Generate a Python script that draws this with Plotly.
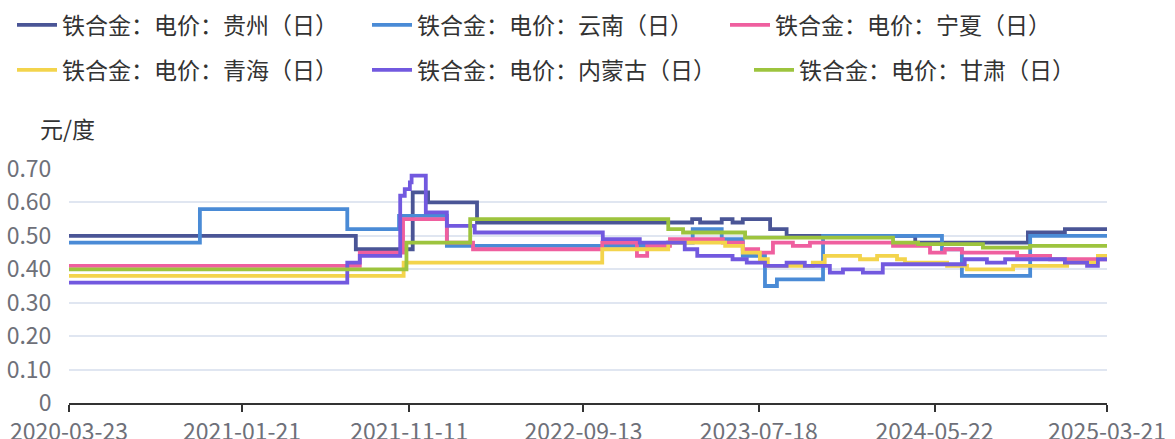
import plotly.graph_objects as go

FONT = "Noto Sans CJK SC, Noto Sans, sans-serif"

# ---- data (step series: value holds from each date to the next) ----
guizhou_dates = ["2020-03-23", "2021-08-09", "2021-11-17", "2021-12-14", "2022-03-10", "2023-03-23",
                 "2023-04-06", "2023-05-14", "2023-06-02", "2023-06-20", "2023-08-07", "2023-09-05",
                 "2024-04-18", "2024-11-02", "2025-01-06", "2025-03-21"]
guizhou_vals = [0.50, 0.46, 0.63, 0.60, 0.54, 0.55, 0.54, 0.55, 0.54, 0.55, 0.52, 0.50, 0.48, 0.51, 0.52, 0.52]

yunnan_dates = ["2020-03-23", "2020-11-08", "2021-07-25", "2021-10-24", "2022-01-16", "2023-02-09",
                "2023-03-24", "2023-05-14", "2023-06-20", "2023-07-29", "2023-08-19", "2023-11-08",
                "2024-06-04", "2024-07-09", "2024-11-06", "2025-03-21"]
yunnan_vals = [0.48, 0.58, 0.52, 0.56, 0.47, 0.48, 0.52, 0.49, 0.44, 0.35, 0.37, 0.50, 0.46, 0.38, 0.50, 0.50]

ningxia_dates = ["2020-03-23", "2021-08-16", "2021-10-31", "2022-01-16", "2022-03-03", "2022-10-16",
                 "2022-12-16", "2023-01-03", "2023-02-12", "2023-05-16", "2023-06-20", "2023-07-17",
                 "2023-08-12", "2023-09-16", "2023-10-16", "2024-03-10", "2024-05-14", "2024-06-09",
                 "2024-07-09", "2024-10-14", "2024-12-11", "2025-03-21"]
ningxia_vals = [0.41, 0.45, 0.55, 0.48, 0.46, 0.48, 0.44, 0.47, 0.49, 0.48, 0.46, 0.45,
                0.48, 0.47, 0.48, 0.47, 0.45, 0.46, 0.45, 0.44, 0.43, 0.43]

qinghai_dates = ["2020-03-23", "2021-11-01", "2022-10-16", "2023-02-09", "2023-05-20", "2023-06-20",
                 "2023-07-20", "2023-08-03", "2023-10-21", "2023-11-11", "2024-01-12", "2024-02-11",
                 "2024-03-17", "2024-03-31", "2024-06-13", "2024-07-18", "2024-10-07", "2025-01-10",
                 "2025-03-05", "2025-03-21"]
qinghai_vals = [0.38, 0.42, 0.46, 0.48, 0.47, 0.45, 0.43, 0.41, 0.42, 0.44, 0.43, 0.44,
                0.43, 0.42, 0.41, 0.40, 0.41, 0.42, 0.44, 0.44]

neimenggu_dates = ["2020-03-23", "2021-07-25", "2021-08-16", "2021-10-26", "2021-11-03", "2021-11-12",
                   "2021-11-15", "2021-12-10", "2022-01-16", "2022-03-06", "2022-10-17", "2022-12-21",
                   "2023-03-10", "2023-04-01", "2023-06-02", "2023-06-27", "2023-07-29", "2023-09-05",
                   "2023-10-07", "2023-11-20", "2023-12-13", "2024-01-17", "2024-02-21", "2024-07-14",
                   "2024-08-22", "2024-09-23", "2025-01-06", "2025-02-14", "2025-03-05", "2025-03-21"]
neimenggu_vals = [0.36, 0.42, 0.44, 0.62, 0.64, 0.66, 0.68, 0.57, 0.53, 0.51, 0.49, 0.48,
                  0.46, 0.44, 0.43, 0.42, 0.41, 0.42, 0.41, 0.39, 0.40, 0.39, 0.415, 0.43,
                  0.42, 0.43, 0.42, 0.41, 0.43, 0.43]

gansu_dates = ["2020-03-23", "2021-11-06", "2022-02-26", "2023-02-09", "2023-03-07", "2023-06-24",
               "2024-03-10", "2024-04-23", "2024-08-15", "2024-11-06", "2025-03-21"]
gansu_vals = [0.40, 0.48, 0.55, 0.52, 0.51, 0.495, 0.48, 0.475, 0.465, 0.47, 0.47]

series_names = ["铁合金：电价：贵州（日）", "铁合金：电价：云南（日）", "铁合金：电价：宁夏（日）",
                "铁合金：电价：青海（日）", "铁合金：电价：内蒙古（日）", "铁合金：电价：甘肃（日）"]
series_colors = ["#4a5596", "#4a8bd6", "#ef5f9f", "#f3d44c", "#7259df", "#9dc43e"]

x_tick_vals = ["2020-03-23", "2021-01-21", "2021-11-11", "2022-09-13", "2023-07-18", "2024-05-22", "2025-03-21"]
y_tick_vals = [0, 0.1, 0.2, 0.3, 0.4, 0.5, 0.6, 0.7]
y_tick_text = ["0", "0.10", "0.20", "0.30", "0.40", "0.50", "0.60", "0.70"]
y_unit = "元/度"

all_dates = [guizhou_dates, yunnan_dates, ningxia_dates, qinghai_dates, neimenggu_dates, gansu_dates]
all_vals = [guizhou_vals, yunnan_vals, ningxia_vals, qinghai_vals, neimenggu_vals, gansu_vals]

W, H = 1175, 439
# legend entry anchor positions (pixels from top-left)
legend_px = [(12, 25), (367, 25), (725, 25), (12, 70), (367, 70), (749, 70)]
legend_ids = ["legend", "legend2", "legend3", "legend4", "legend5", "legend6"]

fig = go.Figure()
for i, (name, d, v, c) in enumerate(zip(series_names, all_dates, all_vals, series_colors)):
    fig.add_trace(go.Scatter(
        x=d, y=v, mode="lines", name=name,
        line=dict(color=c, width=3.8, shape="hv"),
        legend=legend_ids[i],
    ))

legends = {}
for lid, (px, py) in zip(legend_ids, legend_px):
    legends[lid] = dict(
        orientation="h", xref="container", yref="container",
        x=px / W, xanchor="left", y=1 - py / H, yanchor="middle",
        itemwidth=40, font=dict(family=FONT, size=23, color="#333333"),
        bgcolor="rgba(0,0,0,0)",
    )

fig.update_layout(
    width=W, height=H,
    margin=dict(l=69, r=68, t=169, b=36, autoexpand=False),
    paper_bgcolor="white", plot_bgcolor="white",
    font=dict(family=FONT, color="#6e7079"),
    showlegend=True,
    **legends,
    xaxis=dict(
        type="date", range=["2020-03-23", "2025-03-21"], automargin=False,
        tickvals=x_tick_vals, ticktext=x_tick_vals,
        ticks="outside", ticklen=7, tickwidth=1.5, tickcolor="#333333",
        showline=True, linecolor="#333333", linewidth=2,
        showgrid=False, zeroline=False,
        tickfont=dict(family=FONT, size=23, color="#6e7079"),
    ),
    yaxis=dict(
        range=[0, 0.7], tickvals=y_tick_vals, ticktext=y_tick_text, automargin=False,
        showgrid=True, gridcolor="#e0e6f1", gridwidth=1.5,
        zeroline=False, showline=False,
        ticks="outside", ticklen=12, tickcolor="rgba(0,0,0,0)",
        tickfont=dict(family=FONT, size=23, color="#6e7079"),
    ),
    annotations=[dict(
        text=y_unit, xref="paper", yref="paper", x=(38 - 69) / 1038, y=(403 - 128) / 234,
        xanchor="left", yanchor="middle", showarrow=False,
        font=dict(family=FONT, size=23, color="#333333"),
    )],
)

fig.write_html("out.html", config={"displayModeBar": False},
               post_script="document.body.style.margin='0px';")
